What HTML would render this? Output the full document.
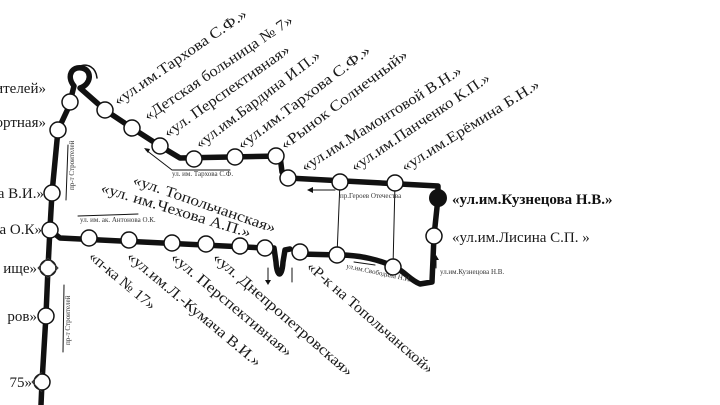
<!DOCTYPE html>
<html><head><meta charset="utf-8"><style>
html,body{margin:0;padding:0;background:#fff;width:720px;height:405px;overflow:hidden}
svg{display:block}
text{font-family:"Liberation Serif","DejaVu Serif",serif;fill:#1a1a1a}
.l{font-size:15px}
.s{font-size:7px;fill:#333}
</style></head><body>
<svg width="720" height="405" viewBox="0 0 720 405" xmlns="http://www.w3.org/2000/svg">
<rect width="720" height="405" fill="#fff"/>
<g fill="none" stroke="#111" stroke-linecap="round" stroke-linejoin="round">
<path d="M72,100 L58,130 L52,193 L50,228 L48,268 L46,315 L42,382 L41,405" stroke-width="5.5"/>
<path d="M70,102 L74,86 C66,76 72,66 82,68 C92,70 92,84 80,88 L105,110 L132,128 L160,146 L180,158 L280,156 L282,172 L288,178 L438,186 L438,198 L434,236 L432,282 L420,284 C410,280 405,272 395,267 C380,260 360,255 340,255 L300,254" stroke-width="5.5"/>
<path d="M78,67 C88,62 96,68 97,78" stroke-width="1.5"/>
<path d="M290,249 L285,250 L283,262 C282,278 277,278 276,262 L274,248" stroke-width="5.5"/>
<path d="M50,230 L60,238 L265,248" stroke-width="5.5"/>
<path d="M340,182 L337,255 M395,183 L393,267" stroke-width="1"/>
<path d="M146,150 L172,170 L230,170 M68,145 L66,200 M64,285 L63,352 M78,216 L138,214 M310,190 L335,190 M354,262 L375,265 M436,268 L436,258 M268,268 L268,280 M292,282 L292,268" stroke-width="1"/>
</g>
<g fill="#111">
<path d="M144,148 l6,1 -2,4z"/>
<path d="M307,190 l6,-3 0,6z"/>
<path d="M265,280 l6,0 -3,5z"/>
<path d="M436,255 l-3,5 6,0z"/>
</g>
<g fill="#fff" stroke="#111" stroke-width="1.5">
<circle cx="70" cy="102" r="8"/><circle cx="58" cy="130" r="8"/><circle cx="52" cy="193" r="8"/><circle cx="50" cy="230" r="8"/><circle cx="48" cy="268" r="8"/><circle cx="46" cy="316" r="8"/><circle cx="42" cy="382" r="8"/>
<circle cx="105" cy="110" r="8"/><circle cx="132" cy="128" r="8"/><circle cx="160" cy="146" r="8"/><circle cx="194" cy="159" r="8"/><circle cx="235" cy="157" r="8"/><circle cx="276" cy="156" r="8"/><circle cx="288" cy="178" r="8"/>
<circle cx="340" cy="182" r="8"/><circle cx="395" cy="183" r="8"/><circle cx="434" cy="236" r="8"/>
<circle cx="89" cy="238" r="8"/><circle cx="129" cy="240" r="8"/><circle cx="172" cy="243" r="8"/><circle cx="206" cy="244" r="8"/><circle cx="240" cy="246" r="8"/><circle cx="265" cy="248" r="8"/><circle cx="300" cy="252" r="8"/>
<circle cx="337" cy="255" r="8"/><circle cx="393" cy="267" r="8"/>
</g>
<circle cx="438" cy="198" r="9" fill="#111"/>
<g stroke="#333" stroke-width="1" fill="none">
<path d="M48,258 l-10,10 10,10 M48,258 l10,10 -10,10 M42,372 l-10,10 10,10"/>
</g>
<g class="l">
<text transform="translate(118,106) rotate(-34.6)" textLength="158" lengthAdjust="spacingAndGlyphs">«ул.им.Тархова С.Ф.»</text>
<text transform="translate(148,121) rotate(-34)" textLength="176" lengthAdjust="spacingAndGlyphs">«Детская больница № 7»</text>
<text transform="translate(168,138) rotate(-35)" textLength="150" lengthAdjust="spacingAndGlyphs">«ул. Перспективная»</text>
<text transform="translate(200,149) rotate(-37)" textLength="152" lengthAdjust="spacingAndGlyphs">«ул.им.Бардина И.П.»</text>
<text transform="translate(242,150) rotate(-37)" textLength="162" lengthAdjust="spacingAndGlyphs">«ул.им.Тархова С.Ф.»</text>
<text transform="translate(285,150) rotate(-37)" textLength="155" lengthAdjust="spacingAndGlyphs">«Рынок Солнечный»</text>
<text transform="translate(305,172) rotate(-32)" textLength="186" lengthAdjust="spacingAndGlyphs">«ул.им.Мамонтовой В.Н.»</text>
<text transform="translate(355,172) rotate(-34)" textLength="164" lengthAdjust="spacingAndGlyphs">«ул.им.Панченко К.П.»</text>
<text transform="translate(405,172) rotate(-32)" textLength="160" lengthAdjust="spacingAndGlyphs">«ул.им.Ерёмина Б.Н.»</text>
<text transform="translate(132,184) rotate(19)" textLength="150" lengthAdjust="spacingAndGlyphs">«ул. Топольчанская»</text>
<text transform="translate(100,192) rotate(17)" textLength="156" lengthAdjust="spacingAndGlyphs">«ул. им.Чехова А.П.»</text>
<text transform="translate(88,258) rotate(40)" textLength="82" lengthAdjust="spacingAndGlyphs">«п-ка № 17»</text>
<text transform="translate(126,258) rotate(40)" textLength="170" lengthAdjust="spacingAndGlyphs">«ул.им.Л.-Кумача В.И.»</text>
<text transform="translate(170,259) rotate(40)" textLength="153" lengthAdjust="spacingAndGlyphs">«ул. Перспективная»</text>
<text transform="translate(212,259) rotate(41)" textLength="180" lengthAdjust="spacingAndGlyphs">«ул. Днепропетровская»</text>
<text transform="translate(306,268) rotate(41)" textLength="162" lengthAdjust="spacingAndGlyphs">«Р-к на Топольчанской»</text>
<text x="46" y="93" text-anchor="end">ителей»</text>
<text x="46" y="127" text-anchor="end">ортная»</text>
<text x="44" y="198" text-anchor="end">а В.И.»</text>
<text x="42" y="234" text-anchor="end">а О.К»</text>
<text x="37" y="273" text-anchor="end">ище»</text>
<text x="37" y="321" text-anchor="end">ров»</text>
<text x="32" y="387" text-anchor="end">75»</text>
<text x="452" y="204" style="font-weight:bold;fill:#111">«ул.им.Кузнецова Н.В.»</text>
<text x="452" y="242">«ул.им.Лисина С.П. »</text>
</g>
<text class="s" x="172" y="176">ул. им. Тархова С.Ф.</text>
<text class="s" x="340" y="198">пр.Героев Отечества</text>
<text class="s" x="440" y="274">ул.им.Кузнецова Н.В.</text>
<text class="s" x="80" y="222">ул. им. ак. Антонова О.К.</text>
<text class="s" transform="translate(346,268) rotate(12)">ул.им.Свободина Н.И.</text>
<text class="s" transform="translate(74,190) rotate(-90)">пр-т Строителей</text>
<text class="s" transform="translate(70,345) rotate(-90)">пр-т Строителей</text>
</svg>
</body></html>
